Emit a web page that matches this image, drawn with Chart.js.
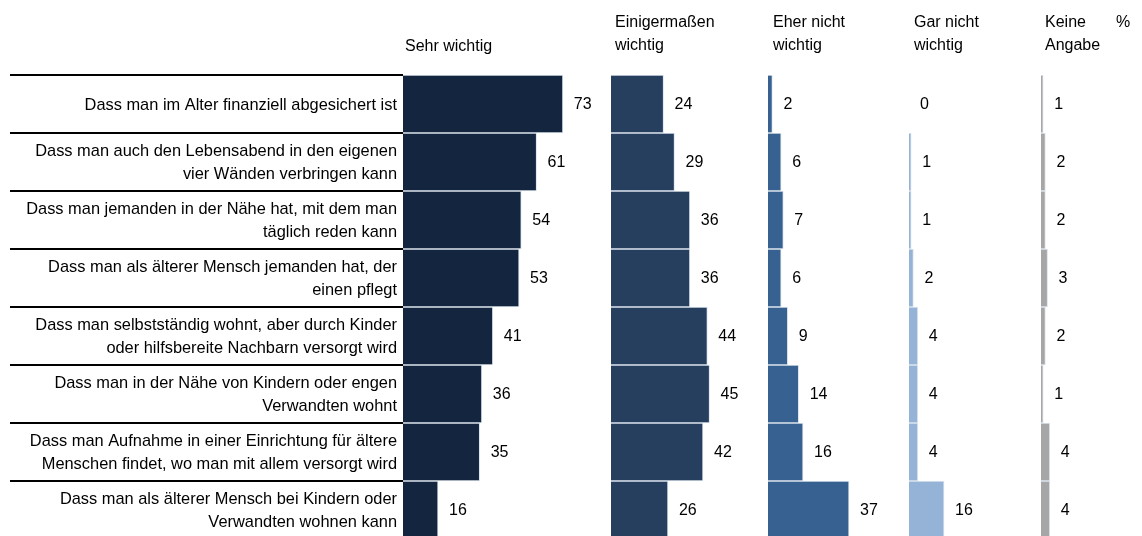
<!DOCTYPE html>
<html>
<head>
<meta charset="utf-8">
<script src="https://cdn.jsdelivr.net/npm/chart.js@4/dist/chart.umd.min.js"></script>
<style>
  body { margin: 0; overflow: hidden; background: #fff; font-family: "Liberation Sans", Arial, sans-serif; }
  #wrap { position: relative; width: 1142px; height: 539px; }
  .kopf { position: absolute; font-size: 16px; line-height: 23px; color: #000; white-space: nowrap; }
</style>
</head>
<body>
<div id="wrap">
  <canvas id="chart"></canvas>
  <div class="kopf" style="left:405px; top:34px;">Sehr wichtig</div>
  <div class="kopf" style="left:615px; top:10px;">Einigermaßen<br>wichtig</div>
  <div class="kopf" style="left:773px; top:10px;">Eher nicht<br>wichtig</div>
  <div class="kopf" style="left:914px; top:10px;">Gar nicht<br>wichtig</div>
  <div class="kopf" style="left:1045px; top:10px;">Keine<br>Angabe</div>
  <div class="kopf" style="left:1116px; top:10px;">%</div>
</div>
<script>
// Aussagen (mehrzeilig)
const aussagen = [
    ['Dass man im Alter finanziell abgesichert ist'],
    ['Dass man auch den Lebensabend in den eigenen', 'vier Wänden verbringen kann'],
    ['Dass man jemanden in der Nähe hat, mit dem man', 'täglich reden kann'],
    ['Dass man als älterer Mensch jemanden hat, der', 'einen pflegt'],
    ['Dass man selbstständig wohnt, aber durch Kinder', 'oder hilfsbereite Nachbarn versorgt wird'],
    ['Dass man in der Nähe von Kindern oder engen', 'Verwandten wohnt'],
    ['Dass man Aufnahme in einer Einrichtung für ältere', 'Menschen findet, wo man mit allem versorgt wird'],
    ['Dass man als älterer Mensch bei Kindern oder', 'Verwandten wohnen kann']
];

const sehrWichtig = [73, 61, 54, 53, 41, 36, 35, 16];
const einigermassenWichtig = [24, 29, 36, 36, 44, 45, 42, 26];
const eherNichtWichtig = [2, 6, 7, 6, 9, 14, 16, 37];
const garNichtWichtig = [0, 1, 1, 2, 4, 4, 4, 16];
const keineAngabe = [1, 2, 2, 3, 2, 1, 4, 4];

// Layout: linker Rand jeder Spalte in Pixel, Pixel pro Prozentpunkt
const plotLinks = 403;
const plotRechts = 1142;
const spaltenStart = [403, 611, 768, 909, 1041];
const pxProPunkt = 2.19;
const farben = ['#14263f', '#263f5f', '#376190', '#95b3d7', '#a6a6a6'];

const reihen = [sehrWichtig, einigermassenWichtig, eherNichtWichtig, garNichtWichtig, keineAngabe];
const spannweite = (plotRechts - plotLinks) / pxProPunkt;

const scales = {
    y: {
        type: 'category',
        offset: true,
        grid: { display: false, drawTicks: false },
        border: { display: false },
        ticks: {
            color: '#000',
            padding: 6,
            labelOffset: 1,
            font: { family: '"Liberation Sans", Arial', size: 16.4, lineHeight: 1.35 }
        },
        afterFit: (s) => {
            s.width = plotLinks;
            s.paddingTop = 0;
            s.paddingBottom = 0;
        }
    }
};
const datasets = reihen.map((werte, i) => {
    const min = -(spaltenStart[i] - plotLinks) / pxProPunkt;
    scales['x' + i] = { type: 'linear', display: false, min: min, max: min + spannweite };
    return {
        data: werte,
        xAxisID: 'x' + i,
        grouped: false,
        backgroundColor: farben[i],
        borderColor: '#dce4ee',
        borderWidth: 1,
        barPercentage: 1,
        categoryPercentage: 1
    };
});

// Trennlinien links und Zahlen neben den Balken
const beschriftung = {
    id: 'beschriftung',
    afterDatasetsDraw(chart) {
        const ctx = chart.ctx;
        const y = chart.scales.y;
        const halb = (y.getPixelForValue(1) - y.getPixelForValue(0)) / 2;
        ctx.save();
        ctx.strokeStyle = '#000';
        ctx.lineWidth = 2;
        aussagen.forEach((_, i) => {
            const py = Math.round(y.getPixelForValue(i) - halb);
            ctx.beginPath();
            ctx.moveTo(10, py);
            ctx.lineTo(plotLinks, py);
            ctx.stroke();
        });
        ctx.fillStyle = '#000';
        ctx.font = '16px "Liberation Sans", Arial';
        ctx.textAlign = 'left';
        ctx.textBaseline = 'middle';
        chart.data.datasets.forEach((ds, d) => {
            chart.getDatasetMeta(d).data.forEach((bar, j) => {
                ctx.fillText(String(ds.data[j]), bar.x + 11, bar.y + 1);
            });
        });
        ctx.restore();
    }
};

new Chart(document.getElementById('chart'), {
    type: 'bar',
    data: { labels: aussagen, datasets: datasets },
    options: {
        indexAxis: 'y',
        responsive: true,
        maintainAspectRatio: false,
        animation: false,
        layout: { padding: { top: 75, right: 0, bottom: 0, left: 0 } },
        plugins: { legend: { display: false }, tooltip: { enabled: false } },
        scales: scales
    },
    plugins: [beschriftung]
});
</script>
</body>
</html>
